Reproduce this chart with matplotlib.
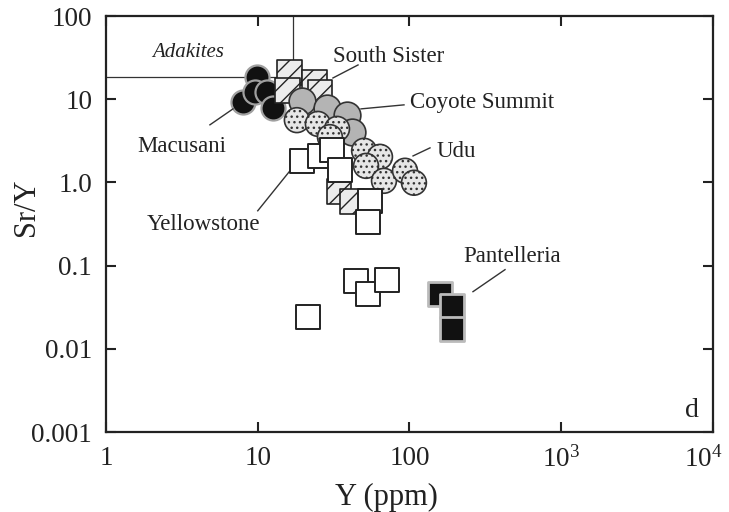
import matplotlib.pyplot as plt
from matplotlib.transforms import offset_copy

plt.rcParams['font.family'] = ['Liberation Serif', 'DejaVu Serif']
plt.rcParams['mathtext.fontset'] = 'custom'
plt.rcParams['mathtext.rm'] = 'Liberation Serif'

# Y (ppm) and Sr/Y for each suite
macusani_y = [9.9, 8.0, 9.6, 11.5, 12.6]
macusani_sr = [18.5, 9.3, 12.2, 12.2, 7.9]

south_sister_y = [16.1, 15.8, 23.8, 25.7, 34.3, 41.8]
south_sister_sr = [20.7, 12.6, 15.7, 11.9, 0.77, 0.585]

coyote_y = [19.6, 28.6, 38.7, 41.8]
coyote_sr = [9.5, 7.9, 6.5, 4.05]

udu_y = [18.1, 24.9, 33.3, 29.9, 50.2, 63.9, 51.7, 67.9, 93.4, 107]
udu_sr = [5.6, 5.05, 4.4, 3.5, 2.4, 2.03, 1.58, 1.045, 1.38, 0.99]

yellowstone_y = [19.6, 25.7, 30.8, 34.8, 54.9, 53.3, 21.4, 44.4, 53.3, 71.1]
yellowstone_sr = [1.82, 2.08, 2.46, 1.42, 0.60, 0.336, 0.0243, 0.066, 0.046, 0.068]

pantelleria_y = [159, 190, 190]
pantelleria_sr = [0.046, 0.033, 0.0175]

# adakite field boundary
adakite_y_max = 17.2
adakite_sr_min = 18.3

xticks = [1, 10, 100, 1000, 10000]
xticklabels = ['1', '10', '100', r'$\mathregular{10^3}$', r'$\mathregular{10^4}$']
yticks = [0.001, 0.01, 0.1, 1, 10, 100]
yticklabels = ['0.001', '0.01', '0.1', '1.0', '10', '100']

fig = plt.figure(figsize=(7.29, 5.12), dpi=100)
ax = fig.add_axes([106 / 729, 1 - 432 / 512, 607 / 729, 416 / 512])
ax.set_xscale('log')
ax.set_yscale('log')
ax.set_xlim(1, 10000)
ax.set_ylim(0.001, 100)

ax.plot([1, adakite_y_max], [adakite_sr_min, adakite_sr_min], color='#333333', lw=0.9, zorder=1)
ax.plot([adakite_y_max, adakite_y_max], [adakite_sr_min, 100], color='#333333', lw=0.9, zorder=1)

ax.scatter(macusani_y, macusani_sr, s=300, marker='o', facecolor='#111111',
           edgecolor='#a0a0a0', linewidth=1.6, zorder=2)
ax.scatter(south_sister_y, south_sister_sr, s=320, marker='s', facecolor='#ececec',
           edgecolor='#222222', hatch='//', linewidth=1.2, zorder=3)
ax.scatter(coyote_y, coyote_sr, s=370, marker='o', facecolor='#b4b4b4',
           edgecolor='#333333', linewidth=1.2, zorder=4)
ax.scatter(udu_y, udu_sr, s=320, marker='o', facecolor='#e6e6e6',
           edgecolor='#333333', hatch='...', linewidth=1.2, zorder=5)
ax.scatter(yellowstone_y, yellowstone_sr, s=320, marker='s', facecolor='white',
           edgecolor='#222222', linewidth=1.4, zorder=6)
ax.scatter(pantelleria_y, pantelleria_sr, s=290, marker='s', facecolor='#111111',
           edgecolor='#bbbbbb', linewidth=2.0, zorder=7)

# labels with leader lines
lab = dict(fontsize=16.5, color='#222222', va='baseline', ha='left')
ax.text(2.01, 32.2, 'Adakites', style='italic', fontsize=15, color='#222222', va='baseline')
ax.text(31.3, 28.0, 'South Sister', **lab)
ax.plot([31.3, 45.8], [18.0, 25.8], color='#333333', lw=1.0)
ax.text(100.7, 7.86, 'Coyote Summit', **lab)
ax.plot([47.9, 92], [7.65, 8.55], color='#333333', lw=1.0)
ax.text(151.8, 2.03, 'Udu', **lab)
ax.plot([105.5, 136.5], [2.08, 2.6], color='#333333', lw=1.0)
ax.text(1.60, 2.33, 'Macusani', **lab)
ax.plot([4.84, 6.87], [4.92, 7.65], color='#333333', lw=1.0)
ax.text(1.86, 0.27, 'Yellowstone', **lab)
ax.plot([16.1, 10.0], [1.34, 0.456], color='#333333', lw=1.0)
ax.text(225, 0.111, 'Pantelleria', **lab)
ax.plot([262, 426], [0.0486, 0.0894], color='#333333', lw=1.0)
ax.text(6535, 0.0015, 'd', fontsize=20, color='#222222', va='baseline')

ax.set_xticks(xticks)
ax.set_xticklabels(xticklabels)
ax.set_yticks(yticks)
ax.set_yticklabels(yticklabels)
ax.minorticks_off()
ax.tick_params(direction='in', length=7, width=1.5, top=True, right=True,
               labelsize=19.5, pad=10, colors='#222222')
for sp in ax.spines.values():
    sp.set_linewidth(1.6)
    sp.set_color('#222222')

# keep the last x label inside the figure
last = ax.get_xticklabels()[-1]
last.set_transform(offset_copy(last.get_transform(), fig=fig, x=-10, y=0, units='dots'))

fig.text(26 / 729, 1 - 207 / 512, 'Sr/Y', rotation=90, ha='center', va='center',
         fontsize=22, color='#222222')
fig.text(386 / 729, 1 - 497 / 512, 'Y (ppm)', ha='center', va='center',
         fontsize=22, color='#222222')

fig.savefig('out.png', dpi=100)
